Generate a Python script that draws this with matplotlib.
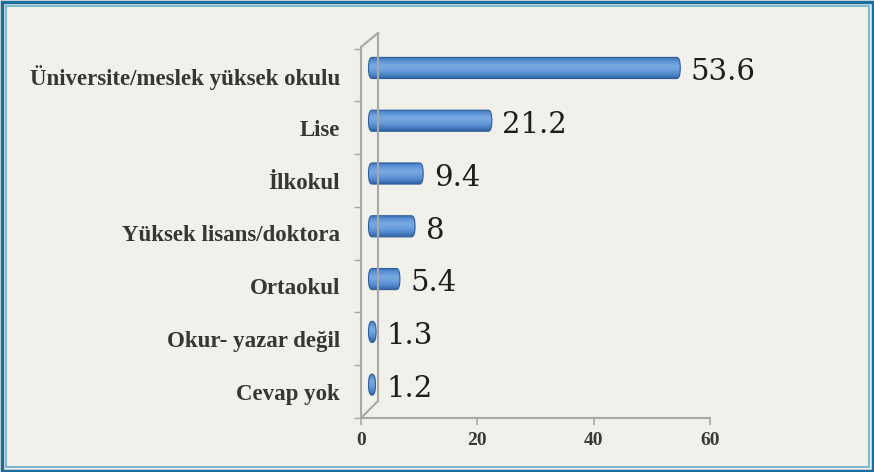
import matplotlib
matplotlib.use("Agg")
import matplotlib.pyplot as plt
import matplotlib.transforms as mtransforms
from matplotlib.patches import Rectangle, FancyBboxPatch
from matplotlib.lines import Line2D
from matplotlib.colors import LinearSegmentedColormap
import numpy as np

# data (bottom -> top)
categories = ["Cevap yok", "Okur- yazar değil", "Ortaokul", "Yüksek lisans/doktora",
              "İlkokul", "Lise", "Üniversite/meslek yüksek okulu"]
values = [1.2, 1.3, 5.4, 8, 9.4, 21.2, 53.6]
value_labels = ["1.2", "1.3", "5.4", "8", "9.4", "21.2", "53.6"]
xticks = [0, 20, 40, 60]

BG = "#F1F0EA"
W, H = 874, 472

fig = plt.figure(figsize=(W / 100, H / 100), dpi=100, facecolor=BG)
ax = fig.add_axes([361 / W, 1 - 418 / H, (710 - 361) / W, (418 - 47) / H])
ax.set_facecolor(BG)

y = np.arange(len(categories))

# pseudo-3D shift for bars (pixels -> inches)
shift = mtransforms.ScaledTranslation(7.5 / 100, 7 / 100, fig.dpi_scale_trans)
bar_tr = ax.transData + shift

grad = np.linspace(0, 1, 64).reshape(-1, 1)
cmap = LinearSegmentedColormap.from_list(
    "barg", ["#3D72B8", "#5E95D8", "#7AAAE2", "#6A9EDC", "#4F86CC", "#2F62A2"])

bh = 0.40
for yi, v in zip(y, values):
    patch = FancyBboxPatch((0, yi - bh / 2), v, bh,
                           boxstyle="round,pad=0,rounding_size=0.6",
                           mutation_aspect=0.33,
                           transform=bar_tr, facecolor="none",
                           edgecolor="#2E5E98", lw=0.8, zorder=3)
    ax.add_patch(patch)
    im = ax.imshow(grad, extent=(0, v, yi - bh / 2, yi + bh / 2), cmap=cmap,
                   aspect="auto", origin="upper", transform=bar_tr, zorder=2,
                   interpolation="bilinear")
    im.set_clip_path(patch)

ax.set_xlim(0, 60)
ax.set_ylim(-0.45, 6.53)

for yi, v, lab in zip(y, values, value_labels):
    ax.annotate(lab, (v, yi), xytext=(13, 2), textcoords="offset points",
                ha="left", va="center", fontsize=21, family="DejaVu Serif",
                color="#1E1E1E", annotation_clip=False)

ax.set_yticks(y)
ax.set_yticklabels(categories, fontsize=16.5, fontweight="bold",
                   family="Liberation Serif", color="#363636")
ax.set_yticks(np.arange(-0.5, len(categories)), minor=True)
ax.tick_params(axis="y", which="major", length=0, pad=15)
ax.tick_params(axis="y", which="minor", length=5, color="#A8A8A8", width=1)

ax.set_xticks(xticks)
ax.set_xticklabels([str(t) for t in xticks], fontsize=14, fontweight="bold",
                   family="Liberation Serif", color="#3A3A3A")
ax.tick_params(axis="x", length=5, color="#A8A8A8", width=1.2, pad=5)

for s in ["top", "right"]:
    ax.spines[s].set_visible(False)
for s in ["left", "bottom"]:
    ax.spines[s].set_color("#A8A8A8")
    ax.spines[s].set_linewidth(1.5)

# back wall of the pseudo-3D axis
def fline(x0, y0, x1, y1):
    fig.add_artist(Line2D([x0 / W, x1 / W], [1 - y0 / H, 1 - y1 / H],
                          transform=fig.transFigure, color="#A8A8A8", lw=1.5))

fline(378, 33, 378, 401)
fline(361, 47, 378, 33)
fline(361, 418, 378, 401)

# frame
fig.add_artist(Rectangle((1.5 / W, 1.5 / H), (W - 3) / W, (H - 3) / H,
                         transform=fig.transFigure, fill=False,
                         edgecolor="#1C6D9E", lw=2.5))
fig.add_artist(Rectangle((5.5 / W, 5.5 / H), (W - 11) / W, (H - 11) / H,
                         transform=fig.transFigure, fill=False,
                         edgecolor="#7DBCD0", lw=1.5))

fig.savefig("out.png", dpi=100, facecolor=BG)
